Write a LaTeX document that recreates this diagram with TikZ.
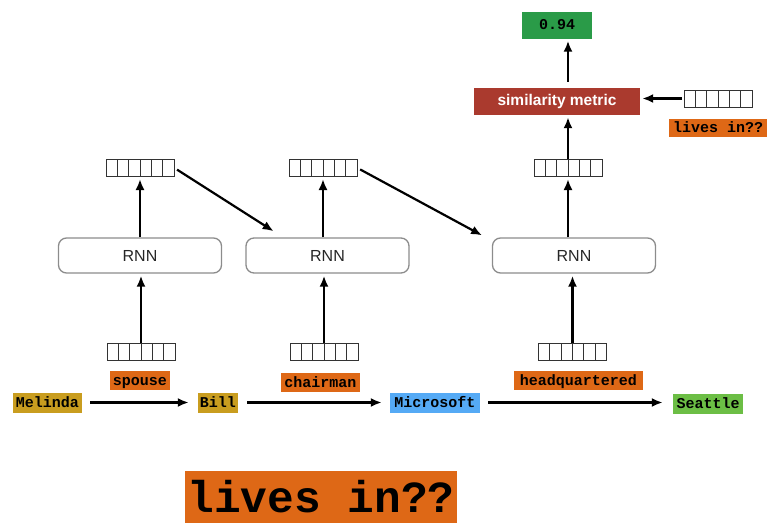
\documentclass[tikz,border=0pt]{standalone}
\usepackage{fontspec}
\setmainfont{Liberation Sans}
\newfontfamily\cour{Liberation Mono}
\usetikzlibrary{calc,arrows.meta}
\definecolor{gold}{RGB}{201,157,31}
\definecolor{orng}{RGB}{222,104,22}
\definecolor{bluee}{RGB}{85,170,245}
\definecolor{grn}{RGB}{108,190,69}
\definecolor{outgrn}{RGB}{42,155,72}
\definecolor{simred}{RGB}{170,58,46}
\definecolor{rnngray}{RGB}{140,140,140}
\tikzset{
  lab/.style={inner sep=1pt, text height=9pt, text depth=0pt, font=\cour\bfseries\fontsize{15}{15}\selectfont, text=black},
  vec/.style={draw=black!80, line width=1pt, minimum width=68pt, minimum height=17pt, inner sep=0pt,
    path picture={\foreach \i in {1,...,5}{\draw[black!80, line width=1pt] ($(path picture bounding box.south west)!\i/6!(path picture bounding box.south east)$) -- ($(path picture bounding box.north west)!\i/6!(path picture bounding box.north east)$);}}},
  rnn/.style={draw=rnngray, line width=1.3pt, rounded corners=8pt, minimum width=163pt, minimum height=35pt, inner sep=0pt, font=\fontsize{16}{16}\selectfont, text=black!85},
  arr/.style={line width=2.2pt, -{Latex[length=11pt,width=9pt]}, shorten >=2pt}
}
\begin{document}
\begin{tikzpicture}[x=1pt,y=-1pt]
\useasboundingbox (0,0) rectangle (768,525);
% top
\node[lab, fill=outgrn, minimum width=70pt, minimum height=27pt] (out) at (557,25) {0.94};
\node[fill=simred, text=white, minimum width=166pt, minimum height=27pt, inner sep=0pt, font=\bfseries\fontsize{15.5}{15.5}\selectfont] (sim) at (557,101.5) {similarity metric};
\node[vec] (vq) at (718,98.5) {};
\node[lab, fill=orng, minimum width=98pt, minimum height=18pt] (livq) at (718,128) {lives in??};
% top vectors
\node[vec] (v1) at (140,168) {};
\node[vec] (v2) at (323,168) {};
\node[vec] (v3) at (568,168) {};
% RNNs
\node[rnn] (r1) at (140,255.5) {RNN};
\node[rnn] (r2) at (327.5,255.5) {RNN};
\node[rnn] (r3) at (574,255.5) {RNN};
% bottom vectors
\node[vec] (b1) at (141,351.5) {};
\node[vec] (b2) at (324,351.5) {};
\node[vec] (b3) at (572.5,351.5) {};
% relation labels
\node[lab, fill=orng, minimum width=60pt, minimum height=19pt] (sp) at (140,380.5) {spouse};
\node[lab, fill=orng, minimum width=79pt, minimum height=19pt] (ch) at (320.5,382.5) {chairman};
\node[lab, fill=orng, minimum width=129pt, minimum height=19pt] (hq) at (578.5,380.5) {headquartered};
% entities
\node[lab, fill=gold, minimum width=69pt, minimum height=20pt] (mel) at (47.5,402.5) {Melinda};
\node[lab, fill=gold, minimum width=40pt, minimum height=20pt] (bill) at (218,402.5) {Bill};
\node[lab, fill=bluee, minimum width=90pt, minimum height=20pt] (ms) at (435,402.5) {Microsoft};
\node[lab, fill=grn, minimum width=70pt, minimum height=20pt] (sea) at (708,403.5) {Seattle};
% big label
\node[inner sep=0pt, fill=orng, minimum width=272pt, minimum height=52pt, font=\cour\bfseries\fontsize{44.5}{44.5}\selectfont] (big) at (321,497) {lives in??};
% arrows
\draw[arr] (b1.north) -- (b1.north |- r1.south);
\draw[arr] (b2.north) -- (b2.north |- r2.south);
\draw[arr] (b3.north) -- (b3.north |- r3.south);
\draw[arr] (r1.north) -- (r1.north |- v1.south);
\draw[arr] (r2.north -| v2.south) -- (v2.south);
\draw[arr] (r3.north -| v3.south) -- (v3.south);
\draw[arr, shorten <=3pt] (v1.east) -- ($(r2.north west)+(30,-5)$);
\draw[arr, shorten <=3pt] (v2.east) -- ($(r3.north west)+(-8,-1)$);
\draw[arr] (v3.north) -- (v3.north |- sim.south);
\draw[arr] (v3.north |- sim.north) ++(0,-6) -- (v3.north |- out.south);
\draw[arr] ($(vq.west)+(-2,0)$) -- (vq.west -| sim.east);
\draw[arr, shorten <=8pt, shorten >=9pt] (mel.east) -- (bill.west);
\draw[arr, shorten <=9pt, shorten >=8pt] (bill.east) -- (ms.west);
\draw[arr, shorten <=8pt, shorten >=10pt] (ms.east) -- (ms.east -| sea.west);
\end{tikzpicture}
\end{document}
